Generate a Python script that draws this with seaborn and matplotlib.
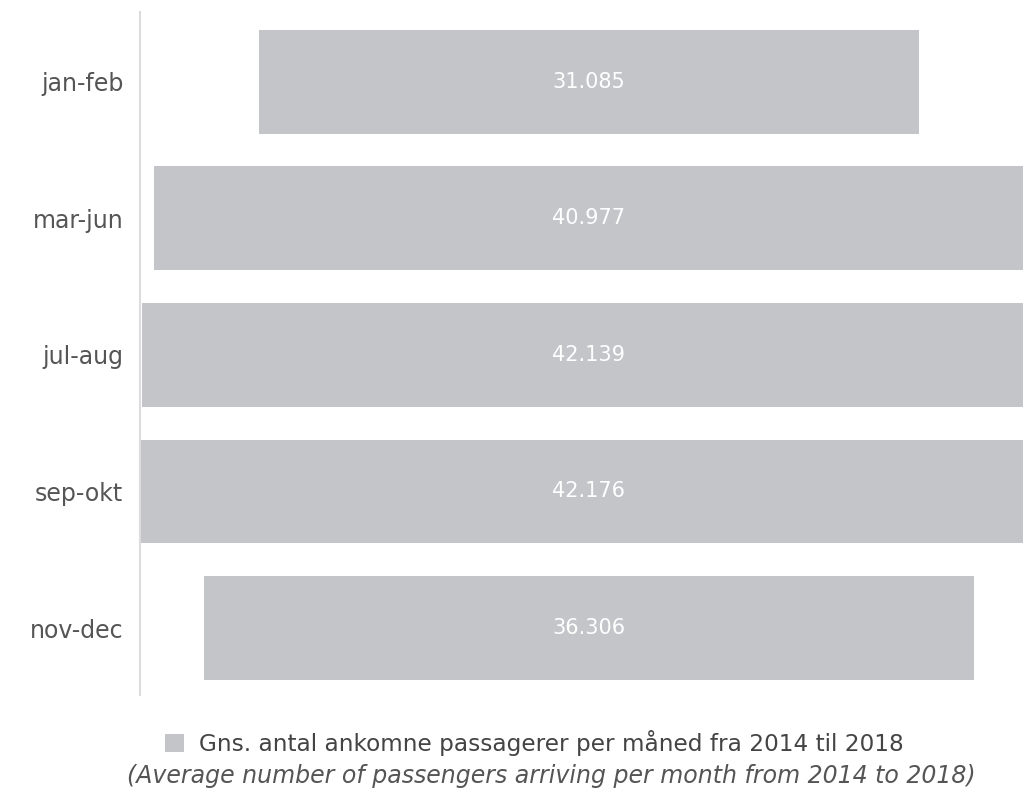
import matplotlib
matplotlib.use("Agg")
import matplotlib.pyplot as plt
from matplotlib.patches import Patch
import pandas as pd
import seaborn as sns

# Average monthly arriving passengers per season, 2014-2018
periods = ["jan-feb", "mar-jun", "jul-aug", "sep-okt", "nov-dec"]
passengers = [31085, 40977, 42139, 42176, 36306]

legend_label = "Gns. antal ankomne passagerer per måned fra 2014 til 2018"
legend_translation = "(Average number of passengers arriving per month from 2014 to 2018)"

BAR_COLOR = "#c4c5c9"
TEXT_COLOR = "#555555"

df = pd.DataFrame({"period": periods, "passengers": passengers})

sns.set_style("white")
plt.rcParams["font.family"] = ["DejaVu Sans"]

fig = plt.figure(figsize=(10.23, 7.93), dpi=100)
ax = fig.add_axes([140 / 1023, 1 - 695 / 793, 883 / 1023, 683 / 793])

sns.barplot(data=df, x="passengers", y="period", orient="h", color=BAR_COLOR,
            saturation=1, width=0.76, linewidth=0, ax=ax)

# centre each bar on zero so the chart reads as a funnel
for patch in ax.patches:
    patch.set_x(-patch.get_width() / 2)

ax.set_xlim(-21147, 20441)
ax.set_ylim(4.49, -0.51)

for i, v in enumerate(passengers):
    ax.text(0, i, f"{v:,}".replace(",", "."), ha="center", va="center",
            color="white", fontsize=15)

for side in ["top", "right", "bottom"]:
    ax.spines[side].set_visible(False)
ax.spines["left"].set_color("#dcdcdc")
ax.spines["left"].set_linewidth(1.5)

ax.set_xticks([])
ax.set_xlabel("")
ax.set_ylabel("")
ax.tick_params(axis="y", length=0, pad=12, labelsize=17, labelcolor=TEXT_COLOR)

fig.legend(handles=[Patch(facecolor=BAR_COLOR, edgecolor="none")],
           labels=[legend_label], loc="center", bbox_to_anchor=(534.5 / 1023, 1 - 743 / 793),
           frameon=False, fontsize=16.7, labelcolor="#444444",
           handlelength=0.8, handleheight=0.8, handletextpad=0.65,
           borderpad=0, borderaxespad=0)
fig.text(551 / 1023, 1 - 776 / 793, legend_translation, ha="center", va="center",
         fontsize=17, style="italic", color=TEXT_COLOR)

fig.savefig("out.png", dpi=100)
